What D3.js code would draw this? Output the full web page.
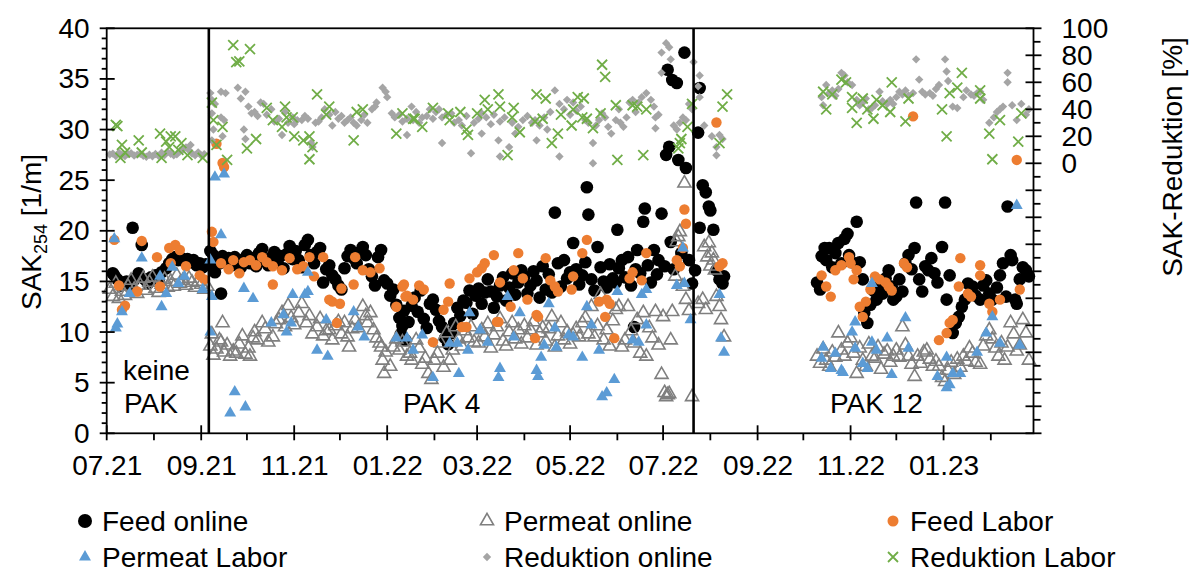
<!DOCTYPE html>
<html>
<head>
<meta charset="utf-8">
<script src="https://cdn.jsdelivr.net/npm/d3@7"></script>
<style>
  body { margin: 0; background: #fff; }
  text { font-family: "Liberation Sans", Arial, sans-serif; fill: #000; }
</style>
</head>
<body>
<svg id="chart" width="1192" height="572"></svg>
<script>
// SAK254 measurements [1/m] and SAK reduction [%], dates as dd.mm.yy

const feedOnline = [
  ["05.07.21",15.8],["06.07.21",15.6],["08.07.21",15.2],["10.07.21",14.6],["12.07.21",14.9],["14.07.21",15.0],["16.07.21",14.7],["18.07.21",20.3],["20.07.21",15.3],["22.07.21",15.8],["24.07.21",18.6],["26.07.21",15.2],["28.07.21",14.8],["30.07.21",15.4],
  ["02.08.21",15.6],["04.08.21",15.1],["06.08.21",15.9],["09.08.21",16.3],["11.08.21",16.8],["13.08.21",17.2],["15.08.21",17.4],["17.08.21",17.1],["19.08.21",17.3],["21.08.21",17.0],["23.08.21",17.2],["25.08.21",16.9],["27.08.21",17.1],["29.08.21",16.6],["31.08.21",16.8],["02.09.21",16.4],["04.09.21",16.7],
  ["07.09.21",18.0],["08.09.21",16.5],["09.09.21",17.6],["10.09.21",15.9],["11.09.21",17.2],["13.09.21",16.8],["14.09.21",13.8],["15.09.21",17.5],["17.09.21",16.9],["19.09.21",17.3],["21.09.21",16.6],["23.09.21",17.4],["25.09.21",17.0],["27.09.21",16.4],["29.09.21",17.2],
  ["01.10.21",17.6],["03.10.21",16.8],["05.10.21",17.3],["07.10.21",16.5],["09.10.21",17.8],["11.10.21",18.2],["13.10.21",17.0],["15.10.21",16.6],["17.10.21",17.4],["19.10.21",17.9],["21.10.21",16.9],["23.10.21",17.5],["25.10.21",16.3],["27.10.21",17.7],["29.10.21",18.5],["31.10.21",17.2],
  ["02.11.21",18.0],["04.11.21",17.1],["06.11.21",16.4],["08.11.21",18.6],["10.11.21",19.1],["12.11.21",17.6],["14.11.21",16.8],["16.11.21",17.9],["18.11.21",18.3],["20.11.21",14.9],["22.11.21",16.2],["24.11.21",16.6],["26.11.21",15.6],["28.11.21",15.2],["30.11.21",14.6],
  ["02.12.21",14.2],["04.12.21",16.3],["06.12.21",17.5],["08.12.21",18.1],["10.12.21",17.3],["12.12.21",16.8],["14.12.21",17.9],["16.12.21",18.4],["18.12.21",17.6],["20.12.21",16.2],["22.12.21",15.5],["24.12.21",14.6],["26.12.21",17.4],["28.12.21",18.1],["30.12.21",15.1],
  ["01.01.22",14.8],["03.01.22",13.6],["05.01.22",14.2],["07.01.22",12.7],["09.01.22",11.4],["10.01.22",9.8],["11.01.22",10.6],["12.01.22",12.1],["13.01.22",9.2],["15.01.22",11.0],["17.01.22",12.6],["19.01.22",13.4],["21.01.22",12.0],["23.01.22",14.1],["25.01.22",11.3],["27.01.22",10.4],["29.01.22",12.8],["31.01.22",13.2],
  ["02.02.22",12.2],["04.02.22",11.1],["06.02.22",10.5],["08.02.22",9.4],["10.02.22",8.8],["12.02.22",9.9],["14.02.22",10.9],["16.02.22",12.4],["18.02.22",11.6],["20.02.22",13.1],["22.02.22",12.9],["24.02.22",14.1],["26.02.22",11.8],["28.02.22",13.6],
  ["02.03.22",14.3],["04.03.22",12.8],["06.03.22",13.9],["08.03.22",15.2],["10.03.22",14.0],["12.03.22",12.4],["14.03.22",13.5],["16.03.22",14.6],["18.03.22",15.4],["20.03.22",13.1],["22.03.22",14.4],["24.03.22",15.8],["26.03.22",13.7],["28.03.22",14.9],["30.03.22",16.1],
  ["01.04.22",15.5],["03.04.22",13.8],["05.04.22",14.6],["07.04.22",16.0],["09.04.22",15.1],["11.04.22",13.4],["13.04.22",16.5],["15.04.22",14.2],["17.04.22",15.7],["19.04.22",13.9],["21.04.22",21.8],["23.04.22",16.8],["25.04.22",14.5],["27.04.22",17.1],["29.04.22",15.3],
  ["01.05.22",15.9],["03.05.22",18.8],["05.05.22",16.2],["07.05.22",14.7],["09.05.22",15.6],["11.05.22",16.9],["12.05.22",24.3],["13.05.22",21.6],["15.05.22",15.2],["17.05.22",14.1],["19.05.22",18.4],["21.05.22",16.4],["23.05.22",15.0],["25.05.22",14.4],["27.05.22",16.7],["29.05.22",15.3],["31.05.22",14.9],
  ["01.06.22",20.1],["02.06.22",16.3],["04.06.22",17.1],["06.06.22",15.4],["08.06.22",17.4],["10.06.22",14.6],["12.06.22",10.5],["13.06.22",16.2],["14.06.22",18.1],["16.06.22",15.8],["18.06.22",20.9],["19.06.22",22.2],["21.06.22",16.6],["23.06.22",14.9],["25.06.22",18.1],["27.06.22",15.7],["28.06.22",17.1],["30.06.22",21.7],
  ["02.07.22",16.5],["03.07.22",27.5],["04.07.22",35.9],["05.07.22",28.3],["06.07.22",18.9],["07.07.22",34.9],["08.07.22",16.2],["10.07.22",34.6],["11.07.22",27.0],["13.07.22",17.8],["15.07.22",37.6],["16.07.22",26.2],["18.07.22",17.1],["20.07.22",14.8],
  ["22.07.22",16.1],["24.07.22",29.7],["25.07.22",34.1],["25.07.22",20.3],["27.07.22",24.5],["29.07.22",23.8],["31.07.22",22.4],["01.08.22",22.0],["03.08.22",20.1],["05.08.22",16.1],["07.08.22",15.2],["09.08.22",14.8],["10.08.22",15.5],
  ["10.10.22",14.9],["12.10.22",14.2],["13.10.22",17.5],["15.10.22",18.3],["16.10.22",17.1],["18.10.22",18.3],["20.10.22",16.4],["22.10.22",17.8],["24.10.22",18.8],["26.10.22",16.8],["28.10.22",19.2],["30.10.22",19.7],["31.10.22",17.6],
  ["02.11.22",16.9],["05.11.22",20.9],["07.11.22",16.9],["09.11.22",15.2],["10.11.22",11.9],["12.11.22",10.9],["14.11.22",12.7],["16.11.22",14.1],["18.11.22",13.2],["20.11.22",14.6],["22.11.22",13.8],["24.11.22",15.3],["26.11.22",16.1],["28.11.22",14.5],["29.11.22",13.2],
  ["01.12.22",13.5],["03.12.22",15.2],["05.12.22",14.0],["07.12.22",16.8],["09.12.22",17.6],["11.12.22",16.2],["13.12.22",18.3],["14.12.22",22.8],["16.12.22",15.2],["18.12.22",14.0],["20.12.22",16.5],["22.12.22",16.1],["24.12.22",17.3],["26.12.22",15.8],["28.12.22",14.9],["31.12.22",18.4],
  ["02.01.23",22.8],["03.01.23",13.2],["05.01.23",15.6],["07.01.23",9.9],["09.01.23",10.9],["11.01.23",11.5],["13.01.23",12.5],["15.01.23",13.2],["17.01.23",14.8],["20.01.23",14.5],["22.01.23",13.6],["25.01.23",13.2],["27.01.23",14.6],["29.01.23",15.1],["31.01.23",13.8],
  ["02.02.23",13.2],["05.02.23",14.4],["07.02.23",15.6],["09.02.23",16.8],["11.02.23",13.5],["12.02.23",22.4],["14.02.23",17.6],["15.02.23",17.1],["17.02.23",13.2],["18.02.23",12.8],["20.02.23",15.2],["22.02.23",16.4],["24.02.23",16.1],["26.02.23",15.5]
];

const permeatOnline = [
  ["03.07.21",14.2],["05.07.21",13.5],["07.07.21",14.8],["09.07.21",13.3],["11.07.21",14.0],["13.07.21",13.6],["15.07.21",14.5],["17.07.21",15.1],["19.07.21",14.2],["21.07.21",13.8],["23.07.21",14.6],["25.07.21",15.3],["27.07.21",14.1],["29.07.21",14.9],["31.07.21",15.4],
  ["02.08.21",14.3],["04.08.21",13.9],["06.08.21",14.7],["08.08.21",15.2],["10.08.21",14.4],["12.08.21",15.0],["14.08.21",14.5],["16.08.21",15.6],["18.08.21",14.8],["20.08.21",15.1],["22.08.21",14.6],["24.08.21",15.3],["26.08.21",14.9],["28.08.21",14.4],["30.08.21",15.0],["01.09.21",14.7],["03.09.21",14.2],["05.09.21",14.5],
  ["07.09.21",8.6],["08.09.21",9.8],["09.09.21",7.7],["11.09.21",8.3],["13.09.21",9.2],["14.09.21",9.0],["15.09.21",10.9],["16.09.21",8.0],["18.09.21",8.7],["20.09.21",7.6],["22.09.21",8.1],["24.09.21",7.9],["26.09.21",8.8],["28.09.21",9.6],["30.09.21",7.8],
  ["02.10.21",8.4],["03.10.21",7.6],["05.10.21",9.4],["06.10.21",10.0],["08.10.21",9.2],["11.10.21",10.9],["13.10.21",10.3],["15.10.21",9.0],["18.10.21",9.5],["20.10.21",10.8],["22.10.21",11.2],["24.10.21",11.9],["26.10.21",10.5],["28.10.21",12.6],["30.10.21",11.4],
  ["01.11.21",10.7],["04.11.21",11.9],["06.11.21",12.8],["09.11.21",10.9],["11.11.21",11.6],["13.11.21",9.8],["16.11.21",10.5],["18.11.21",11.3],["20.11.21",9.6],["22.11.21",10.1],["24.11.21",10.2],["26.11.21",9.2],["28.11.21",10.6],["30.11.21",11.0],
  ["02.12.21",9.8],["04.12.21",10.9],["06.12.21",9.5],["07.12.21",8.5],["09.12.21",10.3],["11.12.21",11.2],["13.12.21",10.4],["16.12.21",12.5],["18.12.21",11.6],["19.12.21",10.9],["21.12.21",11.9],["23.12.21",10.2],["25.12.21",9.4],["27.12.21",8.9],["28.12.21",8.5],["29.12.21",7.2],["30.12.21",5.9],["31.12.21",8.0],
  ["03.01.22",6.6],["05.01.22",8.5],["07.01.22",9.3],["09.01.22",8.2],["11.01.22",9.0],["14.01.22",7.6],["16.01.22",7.9],["17.01.22",7.2],["20.01.22",9.2],["22.01.22",8.4],["24.01.22",6.8],["26.01.22",7.4],["28.01.22",5.9],["30.01.22",5.3],
  ["01.02.22",7.2],["03.02.22",7.9],["05.02.22",8.9],["07.02.22",6.5],["09.02.22",9.9],["11.02.22",7.2],["13.02.22",8.2],["15.02.22",10.5],["17.02.22",9.3],["19.02.22",8.6],["21.02.22",10.1],["23.02.22",9.4],["25.02.22",10.5],["27.02.22",9.0],
  ["02.03.22",8.9],["04.03.22",10.2],["06.03.22",9.5],["08.03.22",10.8],["10.03.22",8.4],["12.03.22",9.7],["14.03.22",10.5],["16.03.22",11.3],["18.03.22",9.1],["20.03.22",8.6],["22.03.22",10.0],["24.03.22",10.9],["26.03.22",9.3],["28.03.22",10.2],["30.03.22",8.8],
  ["01.04.22",10.6],["03.04.22",9.4],["05.04.22",10.2],["07.04.22",11.0],["09.04.22",8.7],["11.04.22",9.9],["13.04.22",10.4],["15.04.22",9.1],["17.04.22",10.3],["19.04.22",11.5],["21.04.22",8.5],["23.04.22",9.6],["25.04.22",10.9],["27.04.22",9.2],["29.04.22",10.0],
  ["01.05.22",8.8],["03.05.22",9.7],["05.05.22",10.3],["07.05.22",9.5],["09.05.22",10.9],["11.05.22",11.4],["13.05.22",9.8],["15.05.22",12.5],["17.05.22",9.5],["19.05.22",10.6],["21.05.22",13.7],["23.05.22",9.2],["25.05.22",10.2],["27.05.22",8.6],["29.05.22",11.1],["31.05.22",12.2],
  ["02.06.22",12.5],["04.06.22",8.5],["06.06.22",9.2],["08.06.22",12.5],["10.06.22",10.1],["12.06.22",8.9],["14.06.22",11.2],["16.06.22",7.9],["18.06.22",11.9],["20.06.22",7.6],["22.06.22",10.4],["24.06.22",9.4],["26.06.22",12.0],["28.06.22",8.7],["30.06.22",5.8],
  ["01.07.22",11.5],["02.07.22",4.0],["03.07.22",3.6],["04.07.22",3.8],["05.07.22",3.9],["06.07.22",9.2],["07.07.22",12.0],["09.07.22",15.5],["10.07.22",18.9],["11.07.22",19.4],["12.07.22",19.9],["14.07.22",14.5],["15.07.22",24.7],["16.07.22",13.2],["18.07.22",12.1],["20.07.22",3.6],
  ["24.07.22",12.8],["27.07.22",13.2],["28.07.22",18.4],["29.07.22",12.2],["30.07.22",17.4],["31.07.22",18.8],["01.08.22",16.5],["02.08.22",17.8],["03.08.22",17.1],["04.08.22",16.1],["05.08.22",13.5],["07.08.22",12.5],["08.08.22",11.2],["10.08.22",9.5],
  ["10.10.22",7.6],["12.10.22",6.9],["14.10.22",8.3],["16.10.22",7.2],["18.10.22",6.6],["20.10.22",8.0],["22.10.22",7.5],["24.10.22",9.9],["26.10.22",8.2],["28.10.22",7.6],["30.10.22",8.9],
  ["01.11.22",9.4],["03.11.22",7.9],["05.11.22",5.9],["07.11.22",8.4],["09.11.22",7.2],["11.11.22",6.6],["13.11.22",8.8],["15.11.22",7.6],["17.11.22",7.4],["19.11.22",8.5],["21.11.22",6.3],["23.11.22",7.8],["25.11.22",8.1],["27.11.22",7.0],["29.11.22",7.6],
  ["01.12.22",8.2],["03.12.22",7.5],["05.12.22",10.5],["07.12.22",8.7],["09.12.22",7.6],["11.12.22",6.8],["13.12.22",5.6],["15.12.22",7.6],["17.12.22",6.9],["19.12.22",8.0],["21.12.22",8.2],["23.12.22",7.3],["25.12.22",6.6],["27.12.22",7.1],["29.12.22",6.6],["31.12.22",5.5],
  ["02.01.23",5.1],["04.01.23",6.2],["06.01.23",7.0],["08.01.23",5.8],["10.01.23",7.3],["12.01.23",6.5],["14.01.23",7.6],["16.01.23",7.1],["18.01.23",8.4],["20.01.23",7.9],["22.01.23",7.0],["25.01.23",6.8],["27.01.23",8.6],["29.01.23",9.6],["31.01.23",10.2],
  ["02.02.23",9.3],["04.02.23",8.4],["06.02.23",7.6],["08.02.23",8.9],["10.02.23",7.2],["12.02.23",8.5],["14.02.23",10.9],["16.02.23",9.8],["18.02.23",8.1],["20.02.23",8.7],["22.02.23",11.2],["24.02.23",9.9],["26.02.23",7.2]
];

const feedLabor = [
  ["06.07.21",19.1],["09.07.21",14.6],["11.07.21",12.2],["13.07.21",12.6],["21.07.21",14.0],["24.07.21",19.0],["03.08.21",17.4],["05.08.21",14.5],["11.08.21",18.3],["12.08.21",16.8],["15.08.21",18.6],["18.08.21",18.1],["22.08.21",16.5],["31.08.21",15.6],["03.09.21",15.2],
  ["08.09.21",19.9],["09.09.21",18.9],["11.09.21",28.6],["15.09.21",26.7],["16.09.21",26.3],["14.09.21",16.8],["19.09.21",16.2],["22.09.21",17.1],["26.09.21",15.8],["29.09.21",16.9],
  ["03.10.21",17.1],["07.10.21",16.6],["11.10.21",17.4],["14.10.21",16.9],["18.10.21",16.5],["18.10.21",14.7],["24.10.21",16.1],["29.10.21",17.3],
  ["03.11.21",16.2],["07.11.21",16.5],["11.11.21",17.4],["14.11.21",15.5],["20.11.21",17.4],["24.11.21",13.2],["26.11.21",13.0],["29.11.21",10.9],
  ["01.12.21",12.8],["02.12.21",14.3],["10.12.21",14.7],["11.12.21",17.4],["16.12.21",16.1],["21.12.21",15.9],["27.12.21",16.3],
  ["07.01.22",12.5],["11.01.22",14.5],["12.01.22",14.7],["13.01.22",13.5],["14.01.22",13.6],["18.01.22",13.2],["22.01.22",14.6],["25.01.22",14.2],["31.01.22",9.0],
  ["07.02.22",12.2],["10.02.22",13.0],["11.02.22",14.8],["19.02.22",10.5],["22.02.22",10.5],["24.02.22",15.3],
  ["01.03.22",15.9],["04.03.22",16.3],["06.03.22",16.8],["12.03.22",17.6],["14.03.22",11.0],["15.03.22",11.0],["16.03.22",14.9],["23.03.22",12.5],["25.03.22",16.1],["28.03.22",17.8],["31.03.22",15.3],
  ["03.04.22",13.2],["08.04.22",9.4],["09.04.22",11.7],["10.04.22",11.5],["15.04.22",17.3],["18.04.22",15.1],["21.04.22",14.5],["23.04.22",14.0],
  ["02.05.22",14.2],["03.05.22",15.5],["09.05.22",17.8],["12.05.22",19.1],["20.05.22",13.0],["24.05.22",11.5],["25.05.22",13.2],["27.05.22",12.8],["30.05.22",9.4],
  ["09.06.22",15.3],["11.06.22",15.9],["17.06.22",15.1],["20.06.22",17.8],
  ["10.07.22",17.1],["12.07.22",16.5],["14.07.22",18.3],["15.07.22",22.1],["16.07.22",20.7],
  ["05.08.22",30.7],["07.08.22",16.5],["09.08.22",16.8],
  ["13.10.22",15.6],["16.10.22",14.5],["19.10.22",13.5],["22.10.22",16.1],["26.10.22",16.6],["31.10.22",17.4],
  ["01.11.22",16.8],["03.11.22",15.2],["05.11.22",16.1],["07.11.22",12.5],["09.11.22",11.5],["11.11.22",13.0],["14.11.22",14.2],["17.11.22",15.5],["20.11.22",15.2],["24.11.22",14.9],["26.11.22",14.5],["28.11.22",14.1],
  ["06.12.22",16.8],["08.12.22",16.4],["12.12.22",31.3],["29.12.22",9.2],
  ["03.01.23",9.9],["05.01.23",10.9],["07.01.23",11.2],["11.01.23",14.5],["12.01.23",17.3],["17.01.23",13.8],["19.01.23",13.5],["25.01.23",16.6],["25.01.23",15.6],["31.01.23",12.8],
  ["02.02.23",12.0],["07.02.23",13.2],["18.02.23",27.0],["20.02.23",14.2]
];

const permeatLabor = [
  ["06.07.21",19.2],["07.07.21",10.4],["08.07.21",10.8],["11.07.21",12.0],["16.07.21",13.8],["24.07.21",17.3],["05.08.21",15.5],["06.08.21",12.5],["09.08.21",13.8],["13.08.21",16.4],["17.08.21",14.8],["21.08.21",15.5],["02.09.21",14.2],
  ["07.09.21",10.0],["07.09.21",17.1],["08.09.21",13.5],["10.09.21",25.3],["14.09.21",19.6],["16.09.21",25.6],["20.09.21",2.0],["23.09.21",4.1],["30.09.21",2.6],["29.09.21",14.3],
  ["05.10.21",13.3],["17.10.21",10.9],["25.10.21",11.7],["27.10.21",10.0],["30.10.21",10.9],["31.10.21",13.7],
  ["08.11.21",13.7],["10.11.21",14.0],["10.11.21",15.9],["16.11.21",8.2],["22.11.21",11.2],["23.11.21",7.6],
  ["10.12.21",12.0],["13.12.21",10.5],["17.12.21",9.5],
  ["07.01.22",9.4],["14.01.22",9.4],["18.01.22",8.2],["24.01.22",9.7],["31.01.22",5.5],
  ["11.02.22",8.9],["16.02.22",8.9],["17.02.22",5.9],["23.02.22",8.2],["24.02.22",11.9],
  ["03.03.22",10.2],["08.03.22",9.0],["15.03.22",5.5],["16.03.22",6.4],["21.03.22",13.5],["25.03.22",9.5],["29.03.22",11.9],
  ["09.04.22",6.2],["10.04.22",5.6],["12.04.22",7.5],["14.04.22",8.7],["17.04.22",12.8],["21.04.22",10.4],["22.04.22",8.5],["30.04.22",9.7],
  ["03.05.22",9.5],["09.05.22",7.5],["12.05.22",12.5],["15.05.22",10.7],["20.05.22",8.2],["22.05.22",3.6],["25.05.22",4.0],["30.05.22",5.3],
  ["01.06.22",14.0],["11.06.22",9.2],["15.06.22",9.0],["17.06.22",13.7],["20.06.22",10.7],["20.06.22",14.2],
  ["10.07.22",14.6],["14.07.22",18.3],["15.07.22",14.8],["19.07.22",11.2],
  ["07.08.22",13.7],["08.08.22",9.4],["10.08.22",8.0],
  ["13.10.22",7.4],["14.10.22",8.5],["19.10.22",6.4],["22.10.22",7.9],["26.10.22",6.2],["27.10.22",6.0],
  ["02.11.22",10.0],["04.11.22",11.0],["04.11.22",8.4],["09.11.22",6.9],["12.11.22",6.4],["15.11.22",9.0],["15.11.22",14.8],["18.11.22",8.2],["25.11.22",9.4],["28.11.22",5.8],
  ["07.12.22",11.4],["09.12.22",8.4],["28.12.22",5.6],
  ["03.01.23",7.5],["03.01.23",4.5],["05.01.23",4.8],["07.01.23",5.9],["12.01.23",5.9],["23.01.23",8.0],["29.01.23",9.9],
  ["02.02.23",11.5],["07.02.23",8.9],["18.02.23",22.5],["20.02.23",8.7]
];

const reduktionOnline = [
  ["03.07.21",6.5],["05.07.21",7.2],["07.07.21",5.4],["09.07.21",7.9],["11.07.21",6.1],["13.07.21",5.3],["15.07.21",6.8],["17.07.21",7.5],["19.07.21",5.8],["21.07.21",6.4],["23.07.21",7.0],["25.07.21",5.6],["27.07.21",4.9],["29.07.21",6.3],["31.07.21",5.2],
  ["02.08.21",6.9],["04.08.21",5.5],["06.08.21",7.8],["08.08.21",6.2],["10.08.21",8.4],["12.08.21",7.1],["14.08.21",5.9],["16.08.21",6.6],["18.08.21",8.9],["20.08.21",10.2],["22.08.21",11.8],["24.08.21",9.6],["25.08.21",13.6],["26.08.21",7.3],["28.08.21",6.0],["30.08.21",8.1],["01.09.21",5.7],["03.09.21",6.8],
  ["07.09.21",52],["08.09.21",47],["08.09.21",37],["09.09.21",25],["08.09.21",17],["10.09.21",44],["14.09.21",53],["14.09.21",34],["15.09.21",20],["16.09.21",32],["17.09.21",52],["25.09.21",56],["27.09.21",48],["30.09.21",53],["29.09.21",25],["30.09.21",18],
  ["02.10.21",42],["04.10.21",37],["06.10.21",38],["08.10.21",35],["10.10.21",45],["12.10.21",44],["14.10.21",36],["17.10.21",40],["19.10.21",31],["22.10.21",33],["24.10.21",21],["26.10.21",38],["28.10.21",30],["31.10.21",34],
  ["01.11.21",29],["03.11.21",32],["06.11.21",32],["08.11.21",35],["10.11.21",33],["12.11.21",15],["13.11.21",12],["15.11.21",30],["17.11.21",31],["19.11.21",34],["21.11.21",40],["24.11.21",36],["26.11.21",28],["28.11.21",38],["30.11.21",33],
  ["02.12.21",35],["04.12.21",30],["06.12.21",32],["08.12.21",34],["10.12.21",30],["12.12.21",28],["15.12.21",32],["17.12.21",36],["19.12.21",30],["22.12.21",40],["24.12.21",42],["25.12.21",45],["29.12.21",56],["31.12.21",53],
  ["01.01.22",49],["04.01.22",37],["06.01.22",34],["09.01.22",36],["11.01.22",31],["14.01.22",33],["14.01.22",21],["17.01.22",42],["18.01.22",32],["20.01.22",38],["22.01.22",30],["24.01.22",34],["27.01.22",35],["29.01.22",40],["31.01.22",33],
  ["02.02.22",38],["04.02.22",40],["06.02.22",34],["06.02.22",15],["09.02.22",36],["12.02.22",37],["14.02.22",30],["17.02.22",32],["19.02.22",28],["22.02.22",35],["25.02.22",7.5],["27.02.22",30],
  ["02.03.22",33],["04.03.22",37],["04.03.22",22],["07.03.22",34],["10.03.22",29],["12.03.22",36],["15.03.22",17],["16.03.22",31],["16.03.22",5],["19.03.22",34],["22.03.22",12],["24.03.22",30],["26.03.22",22],["28.03.22",27],["31.03.22",32],
  ["03.04.22",35],["06.04.22",30],["08.04.22",32],["09.04.22",17],["11.04.22",28],["14.04.22",34],["16.04.22",25],["18.04.22",38],["21.04.22",54],["24.04.22",44],["24.04.22",5],["27.04.22",40],["29.04.22",47],
  ["01.05.22",36],["03.05.22",45],["05.05.22",39],["08.05.22",42],["11.05.22",32],["13.05.22",30],["16.05.22",15],["16.05.22",0],["18.05.22",28],["20.05.22",32],["22.05.22",37],["24.05.22",34],["26.05.22",27],["28.05.22",22],["31.05.22",32],
  ["02.06.22",40],["03.06.22",30],["05.06.22",27],["07.06.22",34],["09.06.22",45],["11.06.22",47],["13.06.22",38],["15.06.22",45],["17.06.22",49],["20.06.22",52],["23.06.22",47],["25.06.22",42],["26.06.22",34],["26.06.22",26],["28.06.22",36],["30.06.22",82],["30.06.22",67],
  ["03.07.22",89],["05.07.22",86],["06.07.22",77],["08.07.22",28],["10.07.22",25],["12.07.22",30],["14.07.22",34],["16.07.22",32],["18.07.22",44],["20.07.22",40],["21.07.22",75],
  ["24.07.22",57],["25.07.22",65],["25.07.22",49],["28.07.22",28],["02.08.22",20],["05.08.22",6],["05.08.22",12],["07.08.22",21],["09.08.22",18],
  ["13.10.22",49],["14.10.22",43],["16.10.22",58],["18.10.22",52],["20.10.22",54],["22.10.22",50],["24.10.22",55],["26.10.22",67],["28.10.22",65],["30.10.22",60],
  ["02.11.22",58],["05.11.22",47],["07.11.22",43],["09.11.22",45],["11.11.22",48],["13.11.22",40],["15.11.22",41],["17.11.22",43],["20.11.22",53],["22.11.22",46],["25.11.22",44],["27.11.22",47],["29.11.22",44],
  ["01.12.22",49],["03.12.22",53],["05.12.22",51],["07.12.22",54],["09.12.22",50],["12.12.22",52],["14.12.22",77],["16.12.22",62],["18.12.22",53],["20.12.22",51],["23.12.22",52],["25.12.22",50],["27.12.22",55],["29.12.22",58],
  ["02.01.23",77],["03.01.23",68],["04.01.23",61],["07.01.23",42],["10.01.23",41],["14.01.23",49],["16.01.23",54],["19.01.23",51],["21.01.23",50],["23.01.23",52],["25.01.23",53],["27.01.23",47],["31.01.23",30],
  ["03.02.23",34],["05.02.23",38],["07.02.23",40],["09.02.23",42],["12.02.23",67],["12.02.23",60],["15.02.23",43],["18.02.23",32],["21.02.23",44],["24.02.23",36],["26.02.23",40]
];

const reduktionLabor = [
  ["07.07.21",28.4],["08.07.21",27.6],["10.07.21",4],["11.07.21",13.6],["13.07.21",8],["22.07.21",17],["24.07.21",8],["05.08.21",22],["06.08.21",4],["09.08.21",16],["11.08.21",12],["12.08.21",20],["15.08.21",20],["17.08.21",10],["19.08.21",15],["23.08.21",6],["02.09.21",4],
  ["08.09.21",45],["09.09.21",32],["11.09.21",13.6],["15.09.21",27],["18.09.21",2.6],["22.09.21",87.6],["24.09.21",75],["26.09.21",75.5],["01.10.21",11],["03.10.21",84.6],["07.10.21",18],["14.10.21",41],["18.10.21",32],
  ["24.10.21",27],["26.10.21",42],["27.10.21",34],["31.10.21",34],["01.11.21",20],["07.11.21",17],["11.11.21",20],["11.11.21",3],["13.11.21",12],["16.11.21",51],["22.11.21",36],["24.11.21",42],
  ["10.12.21",17],["12.12.21",38],["16.12.21",40],["07.01.22",22],["11.01.22",37],["18.01.22",33],["19.01.22",33],["24.01.22",27],["31.01.22",41],
  ["10.02.22",37],["11.02.22",32],["18.02.22",38],["22.02.22",25],["23.02.22",21],["01.03.22",37],["06.03.22",47],["08.03.22",40],["15.03.22",51],["16.03.22",42],["21.03.22",6],["24.03.22",34],["25.03.22",41],["29.03.22",23],
  ["08.04.22",31],["09.04.22",51],["13.04.22",33],["15.04.22",48],["19.04.22",15],["23.04.22",22],["25.04.22",36],["02.05.22",28],["03.05.22",40],["06.05.22",49],["09.05.22",34],["10.05.22",48],["12.05.22",33],["16.05.22",26],
  ["21.05.22",37],["22.05.22",73],["24.05.22",64],["31.05.22",43],["01.06.22",2.6],["11.06.22",43],["14.06.22",42],["18.06.22",6],["20.06.22",40],
  ["11.07.22",11],["12.07.22",15],["13.07.22",18],["17.07.22",27],["20.07.22",44],["07.08.22",15],["09.08.22",42],["12.08.22",51],
  ["14.10.22",53],["16.10.22",40],["20.10.22",51],["26.10.22",62],["29.10.22",60],["02.11.22",41],["02.11.22",49],["05.11.22",30],["09.11.22",48],["12.11.22",40],["16.11.22",33],["18.11.22",47],["22.11.22",43],
  ["27.11.22",38],["28.11.22",60],["07.12.22",31],["09.12.22",48],["31.12.22",40],["03.01.23",20],["05.01.23",52],["10.01.23",56],["13.01.23",67],["25.01.23",54],["25.01.23",48],["31.01.23",22],
  ["02.02.23",3],["07.02.23",32],["19.02.23",16],["21.02.23",37]
];

// start dates of the PAK dosing phases (vertical separators)
const phaseStarts = ["06.09.21", "21.07.22"];
const phaseLabels = [["keine", "PAK"], ["PAK 4"], ["PAK 12"]];

const leftTicks = [0, 5, 10, 15, 20, 25, 30, 35, 40];
const rightTickLabels = [0, 20, 40, 60, 80, 100];

const legendItems = [
  { key: "feedOnline", label: "Feed online" },
  { key: "permeatOnline", label: "Permeat online" },
  { key: "feedLabor", label: "Feed Labor" },
  { key: "permeatLabor", label: "Permeat Labor" },
  { key: "reduktionOnline", label: "Reduktion online" },
  { key: "reduktionLabor", label: "Reduktion Labor" }
];

// ---------- layout ----------
const parse = d3.utcParse("%d.%m.%y");
const X0 = 106.7, X1 = 1033.5, YT = 28.3, YB = 433.3;
const FS = 28;

const x = d3.scaleUtc()
  .domain([Date.UTC(2021, 6, 1), Date.UTC(2023, 2, 1)])
  .range([X0, X1]);
const y = d3.scaleLinear().domain([0, 40]).range([YB, YT]);
const yR = d3.scaleLinear().domain([-200, 100]).range([YB, YT]);

const svg = d3.select("#chart");

const colors = {
  black: "#000000",
  grayTri: "#7f7f7f",
  orange: "#ED7D31",
  blue: "#5B9BD5",
  grayDia: "#A5A5A5",
  green: "#70AD47"
};

const triOpen = d3.symbol(d3.symbolTriangle, 74)();
const triFilled = d3.symbol(d3.symbolTriangle, 62)();
const diamondPath = "M0,-4.2L4.2,0L0,4.2L-4.2,0Z";
const crossPath = "M-5,-5L5,5M-5,5L5,-5";

// ---------- markers ----------
const gData = svg.append("g");

function pts(arr) { return arr.map(d => ({ date: parse(d[0]), v: d[1] })); }

gData.append("g").selectAll("circle").data(pts(feedOnline)).join("circle")
  .attr("cx", d => x(d.date)).attr("cy", d => y(d.v)).attr("r", 6.3)
  .attr("fill", colors.black);

gData.append("g").selectAll("path").data(pts(permeatOnline)).join("path")
  .attr("d", triOpen)
  .attr("transform", d => `translate(${x(d.date)},${y(d.v)})`)
  .attr("fill", "none").attr("stroke", colors.grayTri).attr("stroke-width", 1.6);

gData.append("g").selectAll("circle").data(pts(feedLabor)).join("circle")
  .attr("cx", d => x(d.date)).attr("cy", d => y(d.v)).attr("r", 5.2)
  .attr("fill", colors.orange);

gData.append("g").selectAll("path").data(pts(permeatLabor)).join("path")
  .attr("d", triFilled)
  .attr("transform", d => `translate(${x(d.date)},${y(d.v)})`)
  .attr("fill", colors.blue);

gData.append("g").selectAll("path").data(pts(reduktionOnline)).join("path")
  .attr("d", diamondPath)
  .attr("transform", d => `translate(${x(d.date)},${yR(d.v)})`)
  .attr("fill", colors.grayDia);

gData.append("g").selectAll("path").data(pts(reduktionLabor)).join("path")
  .attr("d", crossPath)
  .attr("transform", d => `translate(${x(d.date)},${yR(d.v)})`)
  .attr("fill", "none").attr("stroke", colors.green).attr("stroke-width", 1.8);

// ---------- phase separators ----------
svg.append("g").selectAll("line").data(phaseStarts.map(parse)).join("line")
  .attr("x1", d => x(d)).attr("x2", d => x(d))
  .attr("y1", YT).attr("y2", YB)
  .attr("stroke", "#000").attr("stroke-width", 2.6);

// ---------- frame and ticks ----------
const axG = svg.append("g").attr("stroke", "#000").attr("stroke-width", 1.8);
axG.append("rect").attr("x", X0).attr("y", YT).attr("width", X1 - X0).attr("height", YB - YT)
  .attr("fill", "none");

const months = d3.utcMonth.range(x.domain()[0], x.domain()[1]);
const majorMonths = months.filter((d, i) => i % 2 === 0);
const minorMonths = months.filter((d, i) => i % 2 === 1);

majorMonths.forEach(d => axG.append("line").attr("x1", x(d)).attr("x2", x(d)).attr("y1", YB - 8).attr("y2", YB + 7));
minorMonths.forEach(d => axG.append("line").attr("x1", x(d)).attr("x2", x(d)).attr("y1", YB).attr("y2", YB + 7));

d3.range(0, 41, 1).forEach(v => {
  if (v % 5 === 0) axG.append("line").attr("x1", X0 - 7).attr("x2", X0 + 8).attr("y1", y(v)).attr("y2", y(v));
  else axG.append("line").attr("x1", X0 - 5).attr("x2", X0).attr("y1", y(v)).attr("y2", y(v));
});
d3.range(-200, 101, 10).forEach(v => {
  if (v % 20 === 0) axG.append("line").attr("x1", X1 - 8).attr("x2", X1 + 8).attr("y1", yR(v)).attr("y2", yR(v));
  else axG.append("line").attr("x1", X1).attr("x2", X1 + 7).attr("y1", yR(v)).attr("y2", yR(v));
});

// ---------- tick labels via d3 axes ----------
function styleAxis(g) {
  g.select(".domain").remove();
  g.selectAll("line").remove();
  g.attr("font-family", null).attr("font-size", null);
  g.selectAll("text").style("font-size", FS + "px").attr("fill", "#000");
}

svg.append("g").attr("transform", `translate(0,${YB})`)
  .call(d3.axisBottom(x).tickValues(majorMonths).tickFormat(d3.utcFormat("%m.%y")).tickSize(0).tickPadding(22))
  .call(styleAxis);

svg.append("g").attr("transform", `translate(${X0},0)`)
  .call(d3.axisLeft(y).tickValues(leftTicks).tickFormat(d3.format("d")).tickSize(0).tickPadding(17))
  .call(styleAxis);

svg.append("g").attr("transform", `translate(${X1},0)`)
  .call(d3.axisRight(yR).tickValues(rightTickLabels).tickFormat(d3.format("d")).tickSize(0).tickPadding(28))
  .call(styleAxis);

// ---------- axis titles ----------
const tL = svg.append("text").attr("transform", "translate(41,232) rotate(-90)")
  .attr("text-anchor", "middle").style("font-size", FS + "px");
tL.append("tspan").text("SAK");
tL.append("tspan").text("254").style("font-size", "18px").attr("dy", 6);
tL.append("tspan").text(" [1/m]").attr("dy", -6);

svg.append("text").attr("transform", "translate(1182,157) rotate(-90)")
  .attr("text-anchor", "middle").style("font-size", FS + "px").text("SAK-Reduktion [%]");

// ---------- phase labels ----------
const pl = svg.append("g").style("font-size", FS + "px");
pl.append("text").attr("x", 123).attr("y", 380).text(phaseLabels[0][0]);
pl.append("text").attr("x", 124).attr("y", 413).text(phaseLabels[0][1]);
pl.append("text").attr("x", 403).attr("y", 413).text(phaseLabels[1][0]);
pl.append("text").attr("x", 830).attr("y", 413).text(phaseLabels[2][0]);

// ---------- legend ----------
const colX = [85, 487, 893], rowY = [521, 557];
const lg = svg.append("g");
legendItems.forEach((it, i) => {
  const cx = colX[i % 3], cy = rowY[Math.floor(i / 3)];
  const g = lg.append("g").attr("transform", `translate(${cx},${cy})`);
  if (it.key === "feedOnline") g.append("circle").attr("r", 7).attr("fill", colors.black);
  if (it.key === "permeatOnline") g.append("path").attr("d", triOpen).attr("fill", "none").attr("stroke", colors.grayTri).attr("stroke-width", 1.6);
  if (it.key === "feedLabor") g.append("circle").attr("r", 5.5).attr("fill", colors.orange);
  if (it.key === "permeatLabor") g.append("path").attr("d", triFilled).attr("fill", colors.blue);
  if (it.key === "reduktionOnline") g.append("path").attr("d", diamondPath).attr("fill", colors.grayDia);
  if (it.key === "reduktionLabor") g.append("path").attr("d", crossPath).attr("fill", "none").attr("stroke", colors.green).attr("stroke-width", 1.8);
  lg.append("text").attr("x", cx + 17).attr("y", cy + 10).style("font-size", FS + "px").text(it.label);
});
</script>
</body>
</html>
